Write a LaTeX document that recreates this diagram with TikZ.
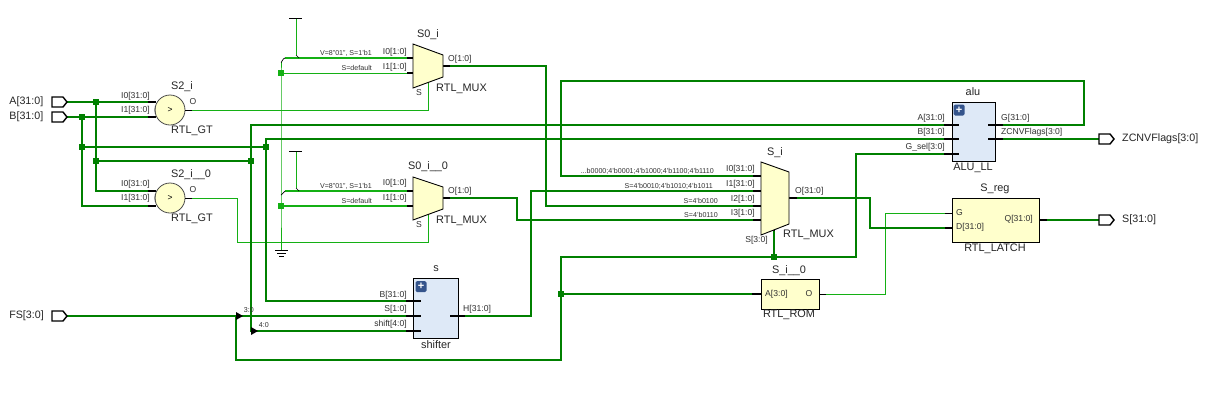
\documentclass[tikz,border=0pt]{standalone}
\usepackage{fontspec}
\setmainfont{Liberation Sans}
\definecolor{wiredark}{HTML}{008000}
\definecolor{wirelight}{HTML}{14B014}
\definecolor{gatefill}{HTML}{FFFFCC}
\definecolor{hierfill}{HTML}{DEE9F7}
\definecolor{iconblue}{HTML}{34548C}
\definecolor{pintext}{HTML}{303030}
\tikzset{
  bus/.style={draw=wiredark,line width=1.7pt},
  net/.style={draw=wirelight,line width=1pt},
  lightbus/.style={draw=wirelight,line width=1.5pt},
  stub/.style={draw=black,line width=1.7pt},
  thinstub/.style={draw=black,line width=1pt},
  jdark/.style={fill=wiredark,draw=none,minimum size=6pt,inner sep=0pt,outer sep=0pt},
  jlight/.style={fill=wirelight,draw=none,minimum size=5.5pt,inner sep=0pt,outer sep=0pt},
  portshape/.style={draw=black,line width=1.4pt,fill=white,line join=miter},
  cellbody/.style={draw=black,line width=.9pt,fill=gatefill,line join=miter},
  gtcell/.style={circle,draw=black!70,line width=.8pt,fill=gatefill,minimum size=30pt,inner sep=0pt,font=\fontsize{8.5}{9}\selectfont},
  romcell/.style={rectangle,draw=black,line width=.9pt,fill=gatefill,inner sep=0pt},
  hiercell/.style={rectangle,draw=black,line width=.9pt,fill=hierfill,inner sep=0pt},
  celltext/.style={font=\fontsize{10.9}{12}\selectfont,text=black!85,inner sep=0pt},
  pintxt/.style={font=\fontsize{8.6}{10}\selectfont,text=pintext,inner sep=0pt},
  pinr/.style={pintxt,anchor=east},
  pinl/.style={pintxt,anchor=west},
  tinytxt/.style={font=\fontsize{7.1}{8}\selectfont,text=pintext,inner sep=0pt,anchor=east},
  porttext/.style={font=\fontsize{10.7}{12}\selectfont,text=black!85,inner sep=0pt,anchor=west},
  iconbox/.style={rectangle,rounded corners=1.5pt,fill=iconblue,text=white,minimum size=11pt,inner sep=0pt,font=\bfseries\fontsize{11}{11}\selectfont},
}
\newcommand{\portat}[2]{%
  \draw[portshape] (#1,#2-5) -- (#1+11,#2-5) -- (#1+15,#2) -- (#1+11,#2+5) -- (#1,#2+5) -- cycle;}
\begin{document}
\begin{tikzpicture}[x=1pt,y=-1pt]
\useasboundingbox (0,0) rectangle (1207,400);
\fill[white] (0,0) rectangle (1207,400);

% ---- pin and junction coordinates
\coordinate (pA) at (67,102); \coordinate (pB) at (67,117); \coordinate (pFS) at (67,316);
\coordinate (pZ) at (1099,139); \coordinate (pS) at (1099,220);
\coordinate (aIzero) at (148,102); \coordinate (aIone) at (148,117);
\coordinate (bIzero) at (148,191); \coordinate (bIone) at (148,206);
\coordinate (jA) at (96,102); \coordinate (jB) at (82,117);
\coordinate (jBlow) at (82,147); \coordinate (jAlow) at (96,161);
\coordinate (jBright) at (266,147); \coordinate (jAright) at (251,161);
\coordinate (aluA) at (944,125); \coordinate (aluB) at (944,139); \coordinate (aluSel) at (944,154);
\coordinate (aluG) at (1003,125); \coordinate (aluZ) at (1003,139);
\coordinate (sB) at (406,301); \coordinate (sS) at (406,316); \coordinate (sShift) at (406,331);
\coordinate (sH) at (465,316);
\coordinate (tapThree) at (236,316); \coordinate (tapFour) at (251,331);
\coordinate (iZero) at (753,176); \coordinate (iOne) at (753,191); \coordinate (iTwo) at (753,206); \coordinate (iThree) at (753,220);
\coordinate (iOut) at (797,198);
\coordinate (iSel) at (774,230);
\coordinate (jSel) at (774,257); \coordinate (jRom) at (561,294);
\coordinate (romA) at (752,294); \coordinate (romO) at (826,294);
\coordinate (regG) at (945,213); \coordinate (regD) at (945,228); \coordinate (regQ) at (1047,220);
\coordinate (muxaO) at (450,66); \coordinate (muxbO) at (450,198);
\coordinate (muxaS) at (428,83); \coordinate (muxbS) at (428,215);
\coordinate (gtaO) at (192,110); \coordinate (gtbO) at (192,198);
\coordinate (muxaZero) at (407,58); \coordinate (muxaOne) at (407,73);
\coordinate (muxbZero) at (407,191); \coordinate (muxbOne) at (407,206);
\coordinate (vccaP) at (296,18); \coordinate (vccbP) at (296,151);
\coordinate (jVa) at (281,73); \coordinate (jVb) at (281,206);
\coordinate (railTop) at (281,62); \coordinate (gndP) at (281,250);

% ---- thin nets
\draw[net] (gtaO) -| (muxaS);
\draw[net] (gtbO) -- (237,198) |- (428,242) -- (muxbS);
\draw[net] (romO) -- (885,294) |- (regG);
\draw[net] (railTop) -- (jVa) -- (jVb) -- (gndP);
\draw[net] (jVa) -- (muxaOne);
\draw[net] (vccaP) -- (296,55);
\draw[net] (vccbP) -- (296,188);
\draw[lightbus] (285,58) -- (muxaZero);
\draw[lightbus] (285,191) -- (muxbZero);
\draw[lightbus] (jVb) -- (muxbOne);
\draw[thinstub,line width=.7pt] (railTop) to[out=-90,in=180] (285,58);
\draw[thinstub,line width=.7pt] (281,195) -- (285,191);
\draw[thinstub,line width=.7pt] (296,55) -- (299,58);
\draw[thinstub,line width=.7pt] (296,188) -- (299,191);

% ---- buses
\draw[bus] (pA) -- (jA) -- (aIzero);
\draw[bus] (pB) -- (jB) -- (aIone);
\draw[bus] (jB) -- (jBlow) |- (bIone);
\draw[bus] (jA) -- (jAlow) |- (bIzero);
\draw[bus] (jBlow) -- (jBright);
\draw[bus] (jAlow) -- (jAright);
\draw[bus] (aluA) -| (jAright) -- (tapFour) -- (sShift);
\draw[bus] (aluB) -| (jBright) |- (sB);
\draw[bus] (pFS) -- (sS);
\draw[bus] (tapThree) |- (561,360) -- (jRom) -- (561,257) -- (jSel) -- (856,257) |- (aluSel);
\draw[bus] (jSel) -- (iSel);
\draw[bus] (jRom) -- (romA);
\draw[bus] (muxaO) -| (546,206) -- (iTwo);
\draw[bus] (muxbO) -| (517,220) -- (iThree);
\draw[bus] (sH) -| (531,191) -- (iOne);
\draw[bus] (iZero) -| (561,81) -| (1084,125) -- (aluG);
\draw[bus] (iOut) -| (870,228) -- (regD);
\draw[bus] (aluZ) -- (pZ);
\draw[bus] (regQ) -- (pS);

% ---- junctions
\foreach \j in {jA,jB,jBlow,jAlow,jBright,jAright,jRom,jSel} \node[jdark] at (\j) {};
\foreach \j in {jVa,jVb} \node[jlight] at (\j) {};

% ---- supply symbols
\draw[thinstub,line width=.8pt] (289,18) -- (302,18);
\draw[thinstub,line width=.8pt] (289,151) -- (302,151);
\draw[thinstub,line width=.8pt] (275,250) -- (288,250);
\draw[thinstub,line width=.8pt] (277,253) -- (286,253);
\draw[thinstub,line width=.8pt] (279,256) -- (284,256);

% ---- ports
\portat{52}{102}
\portat{52}{117}
\portat{52}{316}
\portat{1099}{139}
\portat{1099}{220}
\node[porttext,anchor=east] (tA) at (43.5,102) {A[31:0]};
\node[porttext,anchor=east] (tB) at (43.5,117) {B[31:0]};
\node[porttext,anchor=east] (tFS) at (44,316) {FS[3:0]};
\node[porttext] (tZ) at (1122,139) {ZCNVFlags[3:0]};
\node[porttext] (tS) at (1122,220) {S[31:0]};

% ---- comparators
\draw[stub] (aIzero) -- (156,102); \draw[stub] (aIone) -- (156,117);
\draw[stub] (bIzero) -- (156,191); \draw[stub] (bIone) -- (156,206);
\node[gtcell] (gta) at (170,110) {>};
\node[gtcell] (gtb) at (170,198) {>};
\draw[black!70,line width=.7pt] (155.4,106) to[bend right=12] (155.4,114);
\draw[black!70,line width=.7pt] (155.4,194) to[bend right=12] (155.4,202);
\draw[thinstub] (gta.east) -- (gtaO); \draw[thinstub] (gtb.east) -- (gtbO);
\node[celltext] (gtaN) at (182,87) {S2\_i};
\node[celltext] (gtaT) at (192,131) {RTL\_GT};
\node[celltext] (gtbN) at (191,175) {S2\_i\_\_0};
\node[celltext] (gtbT) at (192,219) {RTL\_GT};
\node[pinr] (gtaA) at (150,96) {I0[31:0]};
\node[pinr] (gtaB) at (150,110) {I1[31:0]};
\node[pinr] (gtbA) at (150,184) {I0[31:0]};
\node[pinr] (gtbB) at (150,198) {I1[31:0]};
\node[pintxt] (gtaC) at (193,102) {O};
\node[pintxt] (gtbC) at (193,190) {O};

% ---- two-way multiplexers
\draw[stub] (muxaZero) -- (414,58); \draw[stub] (muxaOne) -- (414,73);
\draw[stub] (muxbZero) -- (414,191); \draw[stub] (muxbOne) -- (414,206);
\draw[stub] (443,66) -- (muxaO); \draw[stub] (443,198) -- (muxbO);
\draw[thinstub] (muxaS) -- (428,80); \draw[thinstub] (muxbS) -- (428,212);
\draw[cellbody] (413,44) -- (443,55) -- (443,77) -- (413,88) -- cycle;
\draw[cellbody] (413,177) -- (443,187) -- (443,209) -- (413,220) -- cycle;
\node[celltext] (muxaN) at (428,35) {S0\_i};
\node[celltext] (muxbN) at (428,167) {S0\_i\_\_0};
\node[celltext,anchor=west] (muxaT) at (436,89) {RTL\_MUX};
\node[celltext,anchor=west] (muxbT) at (436,221) {RTL\_MUX};
\node[pinr] (muxaA) at (407,52) {I0[1:0]};
\node[pinr] (muxaB) at (407,67) {I1[1:0]};
\node[pinr] (muxbA) at (407,183) {I0[1:0]};
\node[pinr] (muxbB) at (407,198) {I1[1:0]};
\node[pinl] (muxaC) at (448,59) {O[1:0]};
\node[pinl] (muxbC) at (448,191) {O[1:0]};
\node[pintxt] (muxaD) at (419,93) {S};
\node[pintxt] (muxbD) at (419,225) {S};
\node[tinytxt] (vala) at (372,53.5) {V=8"01", S=1'b1};
\node[tinytxt] (valb) at (372,68) {S=default};
\node[tinytxt] (valc) at (372,186.5) {V=8"01", S=1'b1};
\node[tinytxt] (vald) at (372,200.5) {S=default};

% ---- shifter
\node[hiercell,minimum width=45pt,minimum height=60pt] (sbox) at (435.5,308) {};
\draw[stub] (450,316) -- (sH);
\draw[stub] (sB) -- (421,301); \draw[stub] (sS) -- (421,316); \draw[stub] (sShift) -- (421,331);
\node[iconbox] (sicon) at (421,286.5) {+};
\node[celltext] (sN) at (436,269) {s};
\node[celltext] (sT) at (436,345) {shifter};
\node[pinr] (sPa) at (407,295) {B[31:0]};
\node[pinr] (sPb) at (407,309) {S[1:0]};
\node[pinr] (sPc) at (407,324) {shift[4:0]};
\node[pinl] (sPd) at (463,309) {H[31:0]};

% ---- bus rippers
\fill[black] (236,312) -- (243,316) -- (236,320) -- cycle;
\fill[black] (251,327) -- (258,331) -- (251,335) -- cycle;
\node[tinytxt] (ripa) at (254,310.5) {3:0};
\node[tinytxt] (ripb) at (269,325.5) {4:0};

% ---- four-way multiplexer
\draw[stub] (iZero) -- (761,176); \draw[stub] (iOne) -- (761,191);
\draw[stub] (iTwo) -- (761,206); \draw[stub] (iThree) -- (761,220);
\draw[stub] (789,198) -- (iOut);
\draw[stub] (774,231) -- (774,226);
\draw[cellbody] (761,162) -- (789,172) -- (789,224) -- (761,235) -- cycle;
\node[celltext] (iN) at (775,153) {S\_i};
\node[celltext,anchor=west] (iT) at (783,235) {RTL\_MUX};
\node[pinr] (iPa) at (755,169) {I0[31:0]};
\node[pinr] (iPb) at (755,184) {I1[31:0]};
\node[pinr] (iPc) at (755,199) {I2[1:0]};
\node[pinr] (iPd) at (755,213) {I3[1:0]};
\node[pinl] (iPe) at (795,191) {O[31:0]};
\node[pinr] (iPf) at (768,240) {S[3:0]};
\node[tinytxt] (sela) at (714,171) {...b0000;4'b0001;4'b1000;4'b1100;4'b1110};
\node[tinytxt] (selb) at (713,186) {S=4'b0010;4'b1010;4'b1011};
\node[tinytxt] (selc) at (718,200.5) {S=4'b0100};
\node[tinytxt] (seld) at (718,214.5) {S=4'b0110};

% ---- ROM
\draw[thinstub] (819,294) -- (romO);
\node[romcell,minimum width=58pt,minimum height=30pt] (rom) at (790,294) {};
\draw[stub] (romA) -- (762,294);
\node[pinl] (romP) at (765,294) {A[3:0]};
\node[pintxt] (romQ) at (809,293.5) {O};
\node[celltext] (romN) at (789,271) {S\_i\_\_0};
\node[celltext] (romT) at (789,315) {RTL\_ROM};

% ---- ALU
\node[hiercell,minimum width=43pt,minimum height=59pt] (alu) at (973.5,131.5) {};
\draw[stub] (aluA) -- (959,125); \draw[stub] (aluB) -- (959,139); \draw[stub] (aluSel) -- (959,154);
\draw[stub] (988,125) -- (aluG); \draw[stub] (988,139) -- (aluZ);
\node[iconbox] (aluicon) at (959,110) {+};
\node[celltext] (aluN) at (973,92) {alu};
\node[celltext] (aluT) at (973,168) {ALU\_LL};
\node[pinr] (aluPa) at (945,118) {A[31:0]};
\node[pinr] (aluPb) at (945,132) {B[31:0]};
\node[pinr] (aluPc) at (945,147) {G\_sel[3:0]};
\node[pinl] (aluPd) at (1001,118) {G[31:0]};
\node[pinl] (aluPe) at (1001,132) {ZCNVFlags[3:0]};

% ---- latch
\draw[thinstub] (regG) -- (952,213);
\draw[stub] (regD) -- (952,228);
\draw[stub] (1039,220) -- (regQ);
\node[romcell,minimum width=87pt,minimum height=44pt] (reg) at (995.5,220) {};
\node[pinl] (regPa) at (956,213) {G};
\node[pinl] (regPb) at (956,227) {D[31:0]};
\node[pinr] (regPc) at (1033,219) {Q[31:0]};
\node[celltext] (regN) at (995,189) {S\_reg};
\node[celltext] (regT) at (995,249) {RTL\_LATCH};
\end{tikzpicture}
\end{document}
